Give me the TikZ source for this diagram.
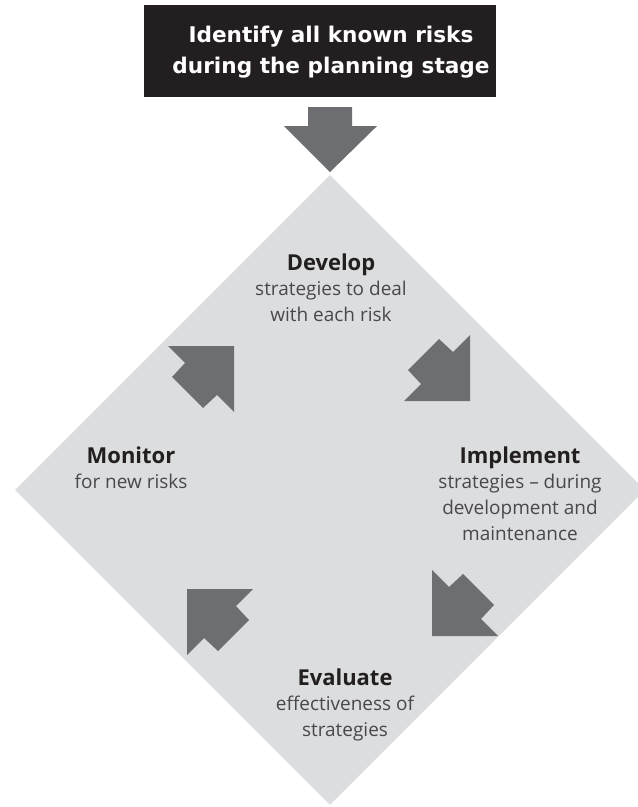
\documentclass[tikz,border=0pt]{standalone}
\usepackage{fontspec}
\setmainfont{Open Sans}
\newfontfamily\titlefont{DejaVu Sans}
\usetikzlibrary{shapes.geometric,calc}

\definecolor{titlebg}{RGB}{35,31,32}
\definecolor{loopgray}{RGB}{220,221,222}
\definecolor{arrowgray}{RGB}{109,110,113}
\definecolor{headink}{RGB}{35,31,32}
\definecolor{bodyink}{RGB}{72,72,74}

% bold first line of each stage
\newcommand{\stagename}[1]{{\fontsize{12.5}{14.7}\selectfont\bfseries\color{headink}#1}}

\tikzset{
  % chunky corner arrow, drawn pointing north-east with its tip at the origin
  turnarrow/.pic={
    \fill[arrowgray] (0,0) -- (-66,0) -- (-49,17) -- (-62,31) -- (-31,62) -- (-17,49) -- (0,66) -- cycle;
  }
}

\begin{document}
\begin{tikzpicture}[
  x=0.02cm, y=-0.02cm,
  titlebox/.style={rectangle, fill=titlebg, minimum width=7.04cm, minimum height=1.84cm, inner sep=0pt},
  titletext/.style={text=white, font=\titlefont\bfseries\fontsize{12.3}{17.5}\selectfont, align=center, inner sep=0pt},
  riskloop/.style={diamond, aspect=1, fill=loopgray, minimum width=12.6cm, minimum height=12.6cm, inner sep=0pt, outer sep=0pt},
  stage/.style={align=center, inner sep=0pt, anchor=north, text=bodyink, font=\fontsize{10.8}{14.7}\selectfont}
]
\useasboundingbox (0,0) rectangle (638,807);
\clip (0,0) rectangle (638,807);

% Heading box
\node[titlebox] (title) at (320,51) {};
\node[titletext] (titletext) at (331,52) {Identify all known risks\\during the planning stage};

% The risk cycle
\node[riskloop] (loop) at (330,490) {};

% Arrow into the cycle
\fill[arrowgray] ($(loop.north)+(-22,-68)$) -- ++(44,0) -- ++(0,19) -- ++(25,0)
  -- ($(loop.north)+(0,-3)$) -- ($(loop.north)+(-46,-49)$) -- ++(24,0) -- cycle;

% Stages
\node[stage] (develop) at (331,253) {\stagename{Develop}\\strategies to deal\\with each risk};
\node[stage] (implement) at (520,446) {\stagename{Implement}\\strategies – during\\development and\\maintenance};
\node[stage] (evaluate) at (345,668) {\stagename{Evaluate}\\effectiveness of\\strategies};
\node[stage] (monitor) at (131,446) {\stagename{Monitor}\\for new risks};

% Arrows round the cycle
\pic at (470,401) [rotate=-90] {turnarrow};
\pic at (432,636) [rotate=180] {turnarrow};
\pic at (187,589) [rotate=90] {turnarrow};
\pic at (234,346) {turnarrow};

\end{tikzpicture}
\end{document}
